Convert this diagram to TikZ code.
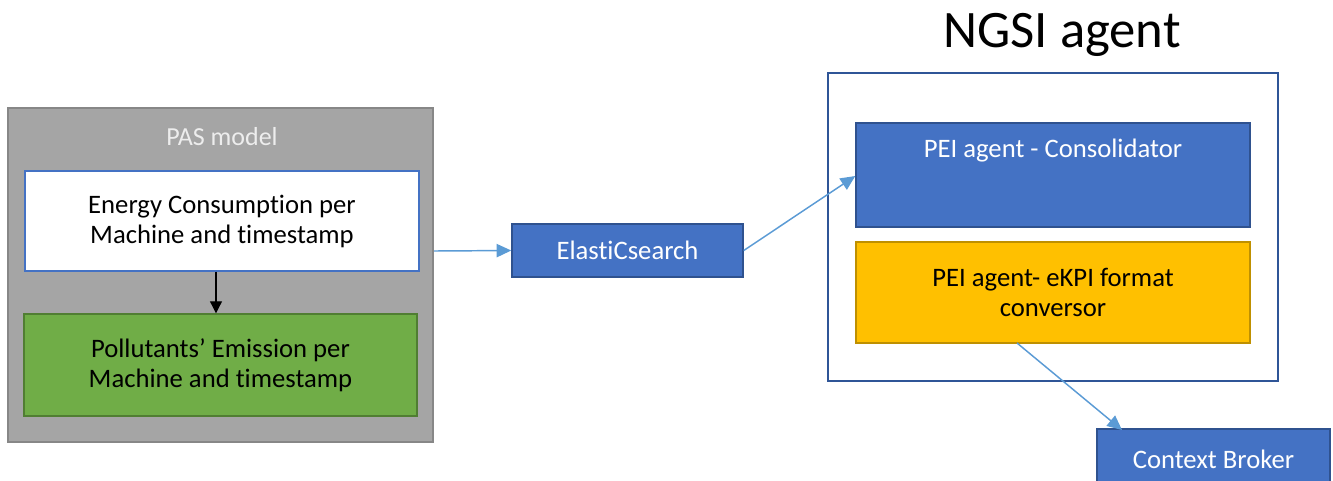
\documentclass[tikz,border=0pt]{standalone}
\usepackage{fontspec}
\setmainfont{Carlito}[Ligatures={NoCommon,NoRare,NoContextual}]
\usetikzlibrary{arrows.meta}
\definecolor{pasgray}{HTML}{A5A5A5}
\definecolor{pasborder}{HTML}{878787}
\definecolor{msblue}{HTML}{4472C4}
\definecolor{msbluedark}{HTML}{2F528F}
\definecolor{msgreen}{HTML}{70AD47}
\definecolor{msgreendark}{HTML}{507E32}
\definecolor{msyellow}{HTML}{FFC000}
\definecolor{msyellowdark}{HTML}{BF9000}
\definecolor{lightarrow}{HTML}{5B9BD5}
\definecolor{ngsiborder}{HTML}{2F5597}
\tikzset{
  box/.style={rectangle, inner sep=0pt, align=center, font=\fontsize{20}{22.5}\selectfont, line width=1.1pt},
  bluebox/.style={box, fill=msblue, draw=msbluedark, text=white},
  conn/.style={draw=lightarrow, line width=1.1pt, -{Triangle[length=11pt,width=10pt]}},
  blackconn/.style={draw=black, line width=0.9pt, -{Triangle[length=9pt,width=9pt]}}
}
\begin{document}
\begin{tikzpicture}[x=0.75pt,y=-0.75pt]
\useasboundingbox (0,0) rectangle (1333,480);
\clip (0,0) rectangle (1333,480);
% PAS model group
\node[box, fill=pasgray, draw=pasborder, line width=1.8pt, minimum width=318.75pt, minimum height=250.5pt] (pas) at (220.5,275) {};
\node[font=\fontsize{19.5}{22}\selectfont, text=white!93!black] (pastitle) at (222,137) {PAS model};
\node[box, fill=white, draw=msblue, minimum width=295.5pt, minimum height=75pt] (energy) at (222,221) {Energy Consumption per\\Machine and timestamp};
\node[box, fill=msgreen, draw=msgreendark, minimum width=294.75pt, minimum height=76.5pt] (poll) at (220.5,365) {Pollutants’ Emission per\\Machine and timestamp};
\draw[blackconn] (energy.south -| 216,0) -- (poll.north -| 216,0);
% ElastiCsearch
\node[bluebox, minimum width=173.25pt, minimum height=39.75pt] (elastic) at (627.5,250.5) {ElastiCsearch};
% NGSI agent
\node[font=\fontsize{39.5}{44}\selectfont] (ngsititle) at (1062,35) {NGSI agent};
\node[box, fill=white, draw=ngsiborder, minimum width=337.5pt, minimum height=231pt] (ngsi) at (1053,227) {};
\node[bluebox, minimum width=295.5pt, minimum height=78pt] (consol) at (1053,175) {};
\node[text=white, font=\fontsize{20}{22}\selectfont] (consoltext) at (1053,151) {PEI agent - Consolidator};
\node[box, fill=msyellow, draw=msyellowdark, minimum width=295.5pt, minimum height=75.75pt, font=\fontsize{20}{23}\selectfont] (ekpi) at (1053,292.5) {PEI agent- eKPI format\\conversor};
% Context Broker
\node[bluebox, minimum width=174.75pt, minimum height=45.75pt] (broker) at (1213.5,459.5) {Context Broker};
% connectors
\draw[conn] (pas.east |- 0,251) -- (elastic.west);
\draw[conn] (elastic.east) -- (consol.west |- 0,176);
\coordinate (ekpiout) at (1017,343);
\coordinate (brokerin) at (1122,430);
\draw[conn] (ekpiout) -- (brokerin);
\end{tikzpicture}
\end{document}
